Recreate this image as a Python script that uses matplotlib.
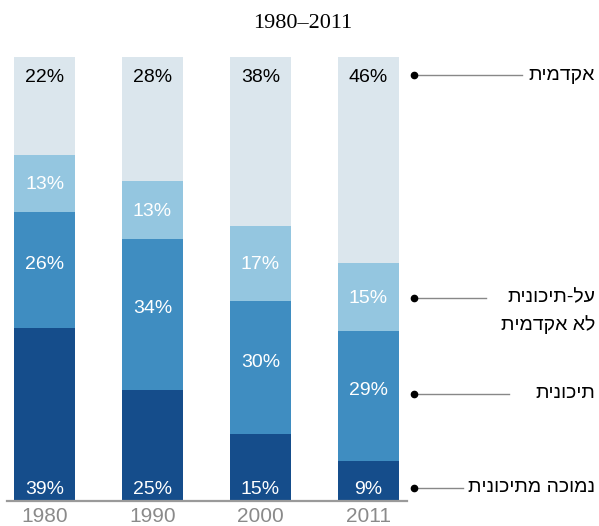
import matplotlib
matplotlib.use("Agg")
import matplotlib.pyplot as plt
from matplotlib.lines import Line2D

years = ["1980", "1990", "2000", "2011"]
below_secondary = [39, 25, 15, 9]
secondary = [26, 34, 30, 29]
post_secondary = [13, 13, 17, 15]
academic = [22, 28, 38, 46]
series = [below_secondary, secondary, post_secondary, academic]
series_names = ["נמוכה מתיכונית", "תיכונית", "על-תיכונית\nלא אקדמית", "אקדמית"]
colors = ["#154d8b", "#3f8dc1", "#94c6e0", "#dbe6ed"]
label_colors = ["white", "white", "white", "black"]
title = "1980–2011"

W, H = 599, 526
fig = plt.figure(figsize=(W / 100, H / 100), dpi=100)

def fx(x):
    return x / W

def fy(y):
    return 1 - y / H

ax = fig.add_axes([fx(7), fy(501), fx(407) - fx(7), fy(57) - fy(501)])
x = list(range(len(years)))
totals = [sum(s[i] for s in series) for i in x]
bottoms = [0.0] * len(years)
for k, vals in enumerate(series):
    shares = [v / t * 100 for v, t in zip(vals, totals)]
    ax.bar(x, shares, bottom=bottoms, width=0.565, color=colors[k], zorder=2)
    for i, v in enumerate(vals):
        if k == 0:
            ax.annotate(f"{v}%", (i, 0), xytext=(0, 2), textcoords="offset points",
                        ha="center", va="bottom", color=label_colors[k], fontsize=14,
                        family="Liberation Sans", zorder=3)
        elif k == 3:
            ax.annotate(f"{v}%", (i, 100), xytext=(0, -15), textcoords="offset points",
                        ha="center", va="center", color=label_colors[k], fontsize=14,
                        family="Liberation Sans", zorder=3)
        else:
            off = 4 if k == 1 else -1
            ax.annotate(f"{v}%", (i, bottoms[i] + shares[i] / 2), xytext=(0, off),
                        textcoords="offset points", ha="center", va="center",
                        color=label_colors[k], fontsize=14, family="Liberation Sans", zorder=3)
    bottoms = [b + s for b, s in zip(bottoms, shares)]

ax.set_xlim(-0.35, 3.36)
ax.set_ylim(0, 100)
for s in ["top", "right", "left"]:
    ax.spines[s].set_visible(False)
ax.spines["bottom"].set_color("#9a9a9a")
ax.spines["bottom"].set_linewidth(1.6)
ax.spines["bottom"].set_zorder(4)
ax.set_yticks([])
ax.set_xticks(x)
ax.set_xticklabels(years, fontsize=15, color="#8a8a8a", family="Liberation Sans")
ax.tick_params(axis="x", length=0, pad=4)

fig.text(fx(303), fy(23), title, ha="center", va="center", fontsize=16,
         family="Liberation Serif", color="black")

# leader lines and right-side labels (Hebrew reversed to visual order for LTR rendering)
legend_rows = [
    (3, 75, 522, [75]),
    (2, 298, 486, [298, 325]),
    (1, 394, 509, [394]),
    (0, 488, 463, [488]),
]
for idx, ly, lend, tys in legend_rows:
    fig.add_artist(Line2D([fx(414), fx(lend)], [fy(ly), fy(ly)], color="#888888", lw=1.0,
                          transform=fig.transFigure))
    fig.add_artist(Line2D([fx(414)], [fy(ly)], marker="o", markersize=4.5, color="black",
                          transform=fig.transFigure))
    for line, ty in zip(series_names[idx].split("\n"), tys):
        fig.text(fx(595), fy(ty), line[::-1], ha="right", va="center", fontsize=14,
                 family="Liberation Sans", color="black")

fig.savefig("out.png", dpi=100)
